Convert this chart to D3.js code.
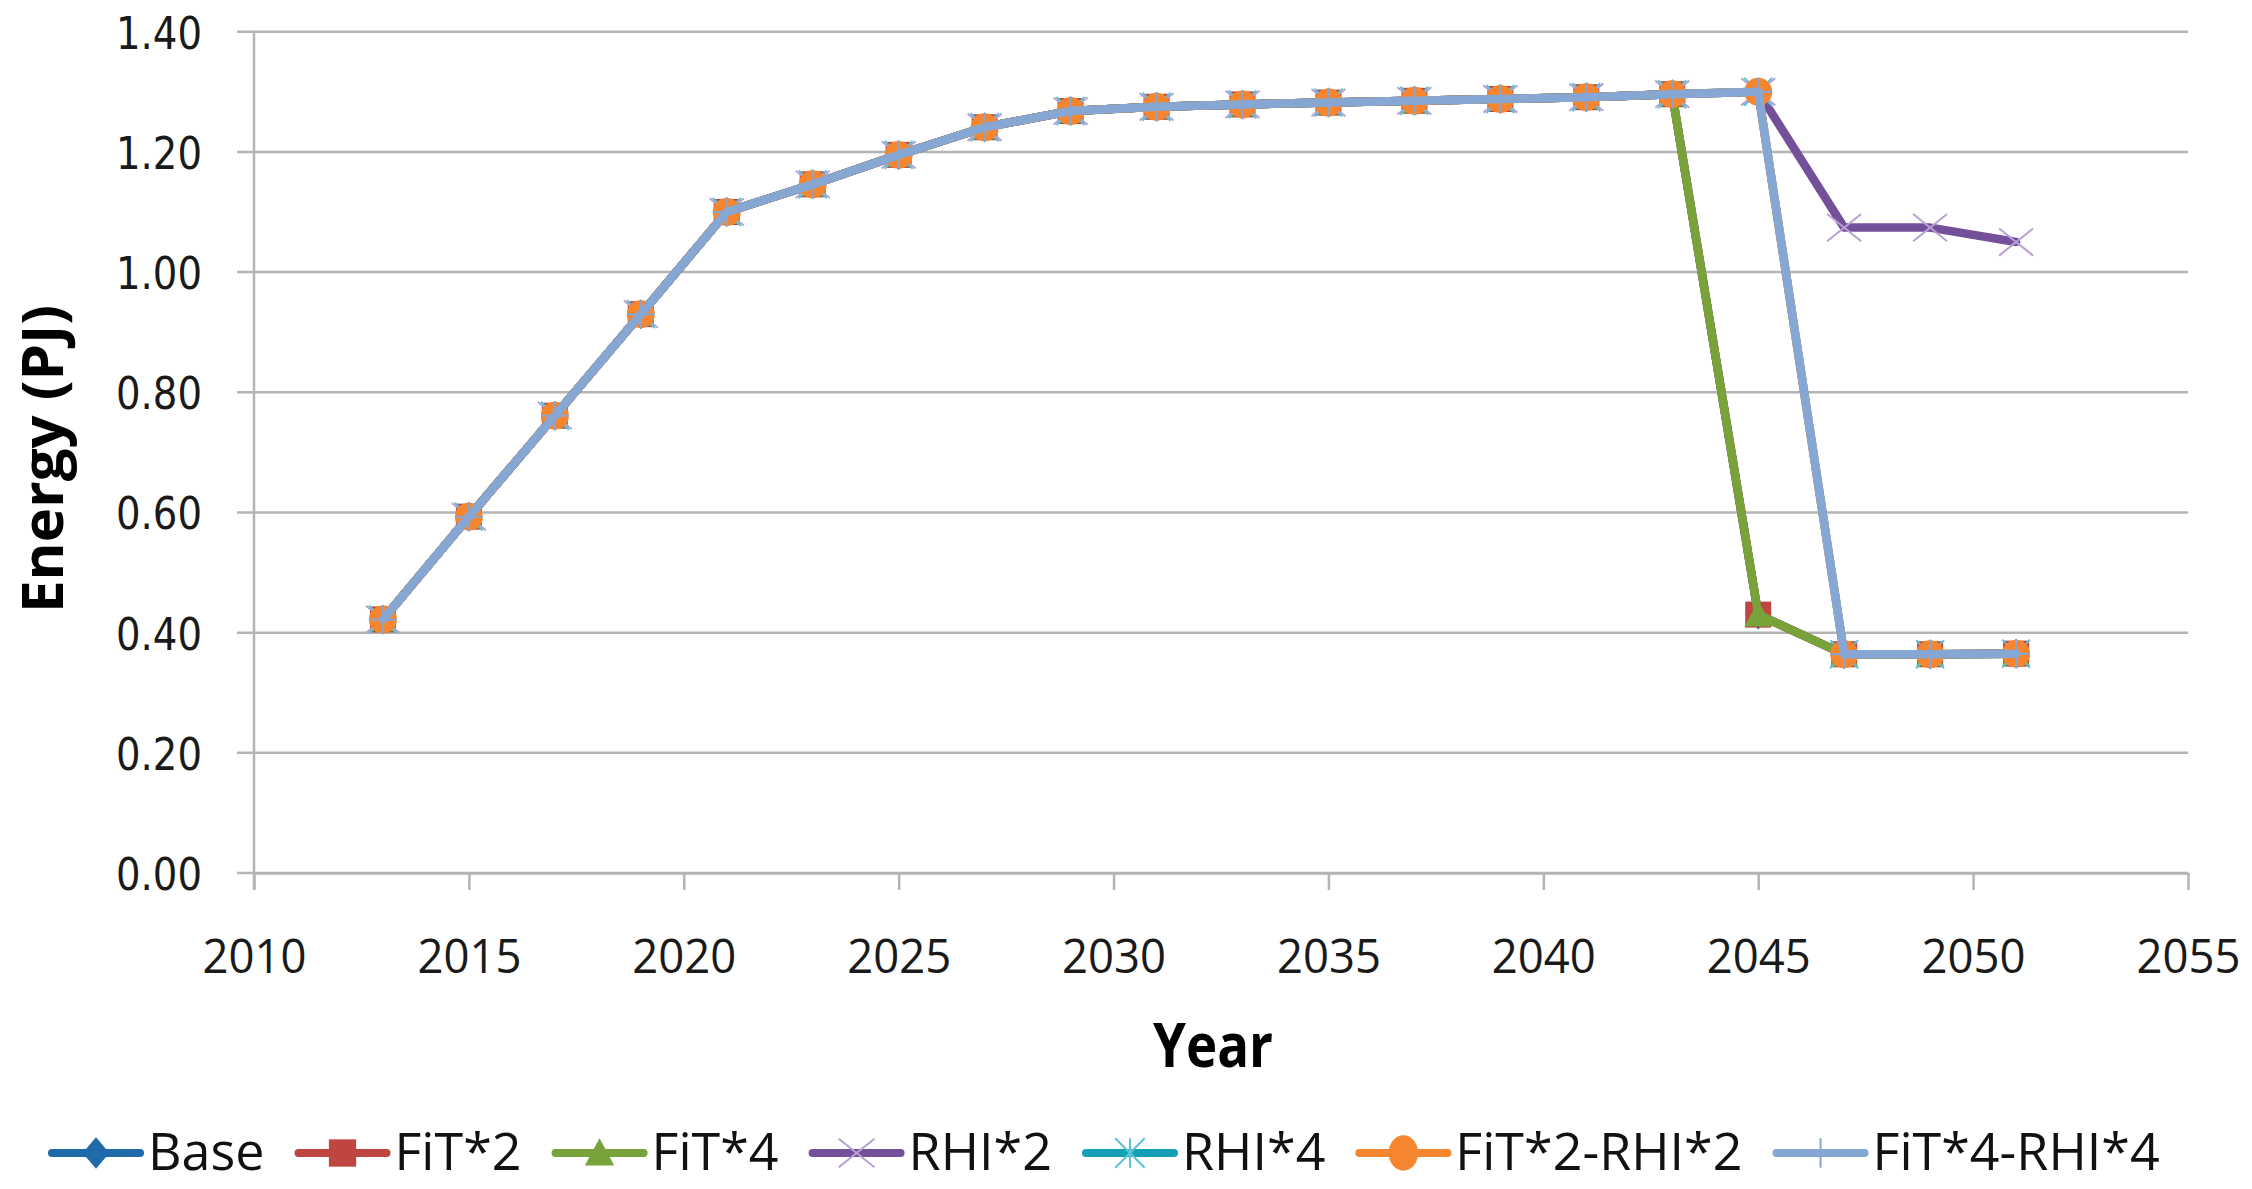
<!DOCTYPE html>
<html>
<head>
<meta charset="utf-8">
<script src="https://cdn.jsdelivr.net/npm/d3@7"></script>
<style>
  html, body { margin: 0; padding: 0; background: #ffffff; }
  svg { display: block; }
</style>
</head>
<body>
<svg id="chart" width="2252" height="1189"></svg>
<script>
// ---------------- DATA ----------------
const years = [2013, 2015, 2017, 2019, 2021, 2023, 2025, 2027, 2029, 2031,
               2033, 2035, 2037, 2039, 2041, 2043, 2045, 2047, 2049, 2051];

const seriesNames = ["Base", "FiT*2", "FiT*4", "RHI*2", "RHI*4", "FiT*2-RHI*2", "FiT*4-RHI*4"];

const base      = [0.422, 0.593, 0.761, 0.930, 1.100, 1.146, 1.195, 1.241, 1.268, 1.275, 1.279, 1.282, 1.285, 1.288, 1.291, 1.296, 0.430, 0.364, 0.364, 0.365];
const fit2      = [0.422, 0.593, 0.761, 0.930, 1.100, 1.146, 1.195, 1.241, 1.268, 1.275, 1.279, 1.282, 1.285, 1.288, 1.291, 1.296, 0.430, 0.364, 0.364, 0.365];
const fit4      = [0.422, 0.593, 0.761, 0.930, 1.100, 1.146, 1.195, 1.241, 1.268, 1.275, 1.279, 1.282, 1.285, 1.288, 1.291, 1.296, 0.430, 0.364, 0.364, 0.365];
const rhi2      = [0.422, 0.593, 0.761, 0.930, 1.100, 1.146, 1.195, 1.241, 1.268, 1.275, 1.279, 1.282, 1.285, 1.288, 1.291, 1.296, 1.300, 1.074, 1.074, 1.050];
const rhi4      = [0.422, 0.593, 0.761, 0.930, 1.100, 1.146, 1.195, 1.241, 1.268, 1.275, 1.279, 1.282, 1.285, 1.288, 1.291, 1.296, 1.300, 0.364, 0.364, 0.365];
const fit2rhi2  = [0.422, 0.593, 0.761, 0.930, 1.100, 1.146, 1.195, 1.241, 1.268, 1.275, 1.279, 1.282, 1.285, 1.288, 1.291, 1.296, 1.300, 0.364, 0.364, 0.365];
const fit4rhi4  = [0.422, 0.593, 0.761, 0.930, 1.100, 1.146, 1.195, 1.241, 1.268, 1.275, 1.279, 1.282, 1.285, 1.288, 1.291, 1.296, 1.300, 0.364, 0.364, 0.365];

const xTickValues = [2010, 2015, 2020, 2025, 2030, 2035, 2040, 2045, 2050, 2055];
const yTickValues = [0, 0.2, 0.4, 0.6, 0.8, 1.0, 1.2, 1.4];
const yTickLabels = ["0.00", "0.20", "0.40", "0.60", "0.80", "1.00", "1.20", "1.40"];

const xTitle = "Year";
const yTitle = "Energy (PJ)";

// ---------------- STYLE ----------------
const seriesStyle = {
  "Base":        { line: "#1f6aab", marker: "diamond",  mfill: "#1f6aab", mstroke: "none" },
  "FiT*2":       { line: "#be4540", marker: "square",   mfill: "#be4540", mstroke: "none" },
  "FiT*4":       { line: "#78a33b", marker: "triangle", mfill: "#78a33b", mstroke: "none" },
  "RHI*2":       { line: "#74509a", marker: "x",        mfill: "none",    mstroke: "#b9a0d2" },
  "RHI*4":       { line: "#139fb6", marker: "star",     mfill: "none",    mstroke: "#5cc4d6" },
  "FiT*2-RHI*2": { line: "#f5862f", marker: "circle",   mfill: "#f5862f", mstroke: "none" },
  "FiT*4-RHI*4": { line: "#86a7d3", marker: "plus",     mfill: "none",    mstroke: "#86a7d3" }
};
const allValues = [base, fit2, fit4, rhi2, rhi4, fit2rhi2, fit4rhi4];

const svg = d3.select("#chart");
const plotLeft = 254, plotRight = 2188, plotTop = 31.7, plotBottom = 873;
const x = d3.scaleLinear().domain([2010, 2055]).range([plotLeft, plotRight]);
const y = d3.scaleLinear().domain([0, 1.4]).range([plotBottom, plotTop]);
const gridColor = "#b4b4b4";
const tickFont = "'Open Sans', 'Noto Sans', sans-serif";

// gridlines
svg.append("g").selectAll("line").data(yTickValues).join("line")
  .attr("x1", plotLeft - 17).attr("x2", plotRight)
  .attr("y1", d => y(d)).attr("y2", d => y(d))
  .attr("stroke", gridColor).attr("stroke-width", 2.5);

// y axis line
svg.append("line").attr("x1", plotLeft).attr("x2", plotLeft).attr("y1", plotTop).attr("y2", plotBottom + 17)
  .attr("stroke", gridColor).attr("stroke-width", 2.5);

// x axis
const xAxis = svg.append("g").attr("transform", `translate(0,${plotBottom})`)
  .call(d3.axisBottom(x).tickValues(xTickValues).tickFormat(d3.format("d")).tickSize(17).tickSizeOuter(0));
xAxis.select(".domain").attr("stroke", gridColor).attr("stroke-width", 2.5);
xAxis.selectAll(".tick line").attr("stroke", gridColor).attr("stroke-width", 2.5);
xAxis.selectAll(".tick text")
  .attr("y", 100).attr("dy", 0)
  .attr("font-family", tickFont).attr("font-size", 47).attr("fill", "#1a1a1a")
  .attr("textLength", 104).attr("lengthAdjust", "spacingAndGlyphs");

// y axis labels
const yAxis = svg.append("g").attr("transform", `translate(${plotLeft},0)`)
  .call(d3.axisLeft(y).tickValues(yTickValues).tickFormat((d, i) => yTickLabels[i]).tickSize(0).tickPadding(52));
yAxis.select(".domain").remove();
yAxis.selectAll(".tick text")
  .attr("dy", 16.5).attr("x", -52)
  .attr("font-family", "'DejaVu Sans', sans-serif").attr("font-size", 45).attr("fill", "#1a1a1a")
  .attr("textLength", 86).attr("lengthAdjust", "spacingAndGlyphs");

// titles
svg.append("text").attr("x", 1213).attr("y", 1067).attr("text-anchor", "middle")
  .attr("font-family", tickFont).attr("font-weight", "bold").attr("font-size", 60)
  .attr("textLength", 120).attr("lengthAdjust", "spacingAndGlyphs")
  .text(xTitle);
svg.append("text").attr("transform", "translate(63,459) rotate(-90)").attr("text-anchor", "middle")
  .attr("font-family", tickFont).attr("font-weight", "bold").attr("font-size", 58)
  .attr("textLength", 308).attr("lengthAdjust", "spacingAndGlyphs")
  .text(yTitle);

// markers
function drawMarker(g, type, st, cx, cy, scale) {
  const s = scale || 1;
  if (type === "diamond") {
    const r = 15 * s;
    g.append("path").attr("d", `M${cx},${cy - r}L${cx + r * 0.85},${cy}L${cx},${cy + r}L${cx - r * 0.85},${cy}Z`).attr("fill", st.mfill);
  } else if (type === "square") {
    const h = 13 * s;
    g.append("rect").attr("x", cx - h).attr("y", cy - h).attr("width", 2 * h).attr("height", 2 * h).attr("fill", st.mfill);
  } else if (type === "triangle") {
    const h = 14 * s;
    g.append("path").attr("d", `M${cx},${cy - h}L${cx + h},${cy + h * 0.85}L${cx - h},${cy + h * 0.85}Z`).attr("fill", st.mfill);
  } else if (type === "circle") {
    g.append("ellipse").attr("cx", cx).attr("cy", cy).attr("rx", 14 * s).attr("ry", 14 * s * (scale ? 1.2 : 1)).attr("fill", st.mfill);
  } else if (type === "x") {
    const h = 17 * s;
    g.append("path").attr("d", `M${cx - h},${cy - h * 0.8}L${cx + h},${cy + h * 0.8}M${cx - h},${cy + h * 0.8}L${cx + h},${cy - h * 0.8}`)
      .attr("stroke", st.mstroke).attr("stroke-width", 2).attr("fill", "none");
  } else if (type === "star") {
    const h = 14 * s;
    g.append("path").attr("d", `M${cx - h},${cy - h}L${cx + h},${cy + h}M${cx - h},${cy + h}L${cx + h},${cy - h}M${cx},${cy - h}L${cx},${cy + h}`)
      .attr("stroke", st.mstroke).attr("stroke-width", 2).attr("fill", "none");
  } else if (type === "plus") {
    const h = 14 * s;
    g.append("path").attr("d", `M${cx - h},${cy}L${cx + h},${cy}M${cx},${cy - h}L${cx},${cy + h}`)
      .attr("stroke", st.mstroke).attr("stroke-width", 2).attr("fill", "none");
  }
}

// series
const line = d3.line().x(d => x(d.year)).y(d => y(d.value));
seriesNames.forEach((name, si) => {
  const st = seriesStyle[name];
  const pts = years.map((yr, i) => ({ year: yr, value: allValues[si][i] }));
  const g = svg.append("g");
  g.append("path").datum(pts).attr("d", line)
    .attr("fill", "none").attr("stroke", st.line).attr("stroke-width", 8.5)
    .attr("stroke-linejoin", "round").attr("stroke-linecap", "round");
  pts.forEach(p => drawMarker(g, st.marker, st, x(p.year), y(p.value)));
});

// legend
const legendY = 1153;
let lx = 52;
seriesNames.forEach(name => {
  const st = seriesStyle[name];
  const g = svg.append("g");
  g.append("line").attr("x1", lx).attr("x2", lx + 88).attr("y1", legendY).attr("y2", legendY)
    .attr("stroke", st.line).attr("stroke-width", 8).attr("stroke-linecap", "round");
  drawMarker(g, st.marker, st, lx + 44, legendY, 1.05);
  const t = g.append("text").attr("x", lx + 96).attr("y", legendY + 17)
    .attr("font-family", tickFont).attr("font-size", 51).attr("fill", "#111")
    .text(name);
  const w = t.node().getComputedTextLength() * 1.02;
  t.attr("textLength", w).attr("lengthAdjust", "spacingAndGlyphs");
  lx = lx + 96 + w + 34;
});
</script>
</body>
</html>
